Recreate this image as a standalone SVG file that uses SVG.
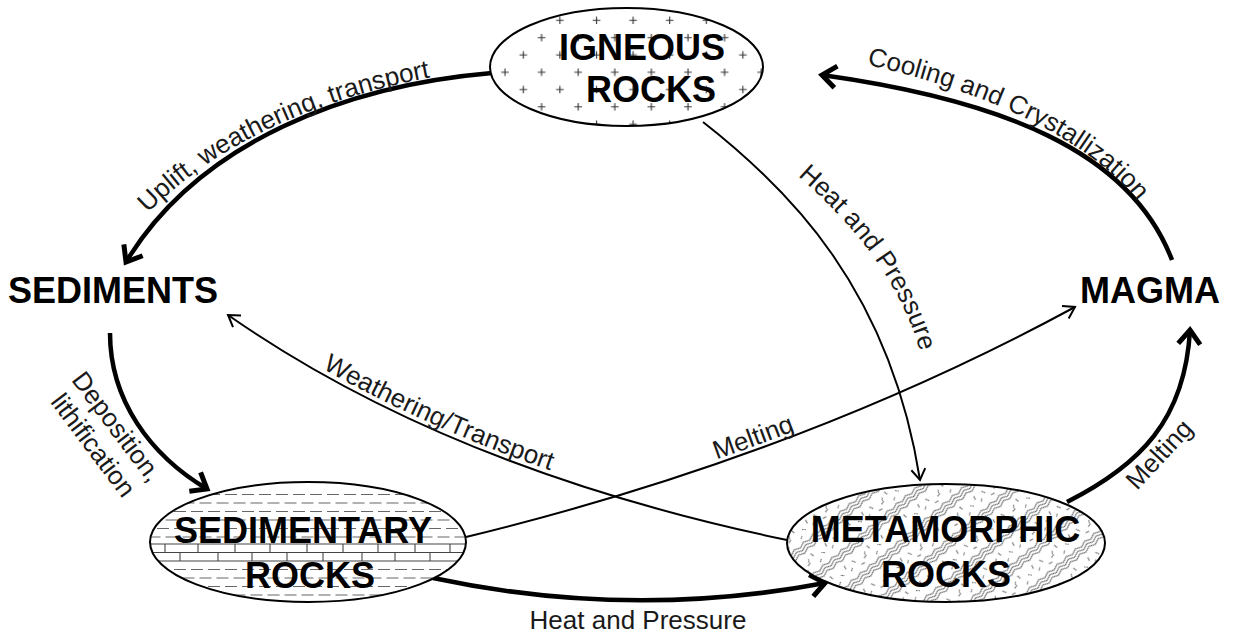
<svg xmlns="http://www.w3.org/2000/svg" width="1233" height="634" viewBox="0 0 1233 634">
<style>
.node{font-family:"Liberation Sans",Arial,sans-serif;font-weight:bold;font-size:36px;fill:#000;text-anchor:middle}
.lbl{font-family:"Liberation Sans",Arial,sans-serif;font-size:26px;fill:#1a1a1a}
.thick{fill:none;stroke:#000;stroke-width:4.5;marker-end:url(#ahThick)}
.thin{fill:none;stroke:#000;stroke-width:2;marker-end:url(#ahThin)}
.edge{stroke:#000;stroke-width:2}
</style>
<defs>
<marker id="ahThick" markerUnits="userSpaceOnUse" viewBox="-20 -20 40 40" markerWidth="40" markerHeight="40" refX="0" refY="0" orient="auto" overflow="visible">
<path d="M-14,-11 L0,0 L-14,11" fill="none" stroke="#000" stroke-width="5"/>
</marker>
<marker id="ahThin" markerUnits="userSpaceOnUse" viewBox="-20 -20 40 40" markerWidth="40" markerHeight="40" refX="0" refY="0" orient="auto" overflow="visible">
<path d="M-11,-7 L0,0 L-11,7" fill="none" stroke="#000" stroke-width="2"/>
</marker>
<pattern id="plus" patternUnits="userSpaceOnUse" x="496" y="29" width="36.6" height="34.6">
<rect width="36.6" height="34.6" fill="#fff"/>
<path d="M5.2,8.65 h7.6 M9,4.85 v7.6 M23.5,25.95 h7.6 M27.3,22.15 v7.6" stroke="#333" stroke-width="1.1"/>
</pattern>
<pattern id="meta" patternUnits="userSpaceOnUse" width="48" height="30" patternTransform="rotate(-40)">
<rect width="48" height="30" fill="#fff"/>
<path d="M0,3 q3,-2.6 6,0 t6,0 t6,0 t6,0 t6,0 t6,0 t6,0 t6,0 M0,6.4 q3,-2.6 6,0 t6,0 t6,0 t6,0 t6,0 t6,0 t6,0 t6,0 M0,9.8 q3,-2.6 6,0 t6,0 t6,0 t6,0 t6,0 t6,0 t6,0 t6,0" stroke="#444" stroke-width="0.85" fill="none"/>
<path d="M4,17 l2,4 M15,23 l4,-1 M25,15 l1,4 M34,21 l3,3 M43,16 l-1,4 M9,26 l4,1 M30,26 l-3,2 M45,25 l3,-2 M20,18 l-2,3" stroke="#555" stroke-width="0.9" fill="none"/>
</pattern>
<clipPath id="sedClip"><ellipse cx="308" cy="542" rx="158" ry="60"/></clipPath>
<path id="tpUplift" d="M148,213 C215,145 320,95 450,74"/>
<path id="tpCool" d="M867,65 C960,85 1085,130 1142,207"/>
<path id="tpHP" d="M798,176 C848,220 915,290 928,390"/>
<path id="tpWT" d="M231,311 Q453,466 790,536"/>
<path id="tpMelt" d="M466,533 Q799,452 1073,303"/>
</defs>
<rect width="1233" height="634" fill="#fff"/>

<g id="connectors">
<path class="thick" d="M492,73 C350,85 200,140 126,262"/>
<path class="thick" d="M1172,260 C1130,150 1000,100 822,75"/>
<path class="thin" d="M703,122 C790,190 890,290 920,480"/>
<path class="thick" d="M1067,502 C1140,465 1185,420 1190,330"/>
<path class="thin" d="M466,537 Q800,456 1075,307"/>
<path class="thin" d="M787,540 Q450,470 228,315"/>
<path class="thick" d="M110,333 C110,400 150,455 207,489"/>
<path class="thick" d="M433,578 Q630,620 825,583"/>
</g>

<g id="labels">
<text class="lbl"><textPath href="#tpUplift">Uplift, weathering, transport</textPath></text>
<text class="lbl"><textPath href="#tpCool">Cooling and Crystallization</textPath></text>
<text class="lbl"><textPath href="#tpHP">Heat and Pressure</textPath></text>
<text class="lbl"><textPath href="#tpWT" startOffset="108">Weathering/Transport</textPath></text>
<text class="lbl"><textPath href="#tpMelt" startOffset="261">Melting</textPath></text>
<text class="lbl" transform="translate(1137,491) rotate(-47)">Melting</text>
<text class="lbl" transform="translate(70.7,380) rotate(53)">Deposition,</text>
<text class="lbl" transform="translate(49.7,402) rotate(53)">lithification</text>
<text class="lbl" x="638" y="629" text-anchor="middle">Heat and Pressure</text>
</g>

<g id="igneous">
<ellipse cx="626.5" cy="67" rx="136.5" ry="59" fill="url(#plus)" class="edge"/>
<text class="node" x="642" y="60">IGNEOUS</text>
<text class="node" x="651" y="102">ROCKS</text>
</g>

<g id="sediments">
<text class="node" x="8" y="303" style="text-anchor:start">SEDIMENTS</text>
</g>

<g id="magma">
<text class="node" x="1080" y="303" style="text-anchor:start">MAGMA</text>
</g>

<g id="sedimentary">
<ellipse cx="308" cy="542" rx="158" ry="60" fill="#fff"/>
<g clip-path="url(#sedClip)">
<g stroke="#666" stroke-width="1.2" stroke-dasharray="12 5">
<path d="M140,494.5 H480"/>
<path d="M140,503 H480" stroke-dashoffset="8.5"/>
<path d="M140,511.5 H480"/>
<path d="M140,520 H480" stroke-dashoffset="8.5"/>
<path d="M140,528.5 H480"/>
<path d="M140,537 H480" stroke-dashoffset="8.5"/>
<path d="M140,569.5 H480"/>
<path d="M140,578 H480" stroke-dashoffset="8.5"/>
<path d="M140,586.5 H480"/>
<path d="M140,595 H480" stroke-dashoffset="8.5"/>
</g>
<g stroke="#444" stroke-width="1.1">
<path d="M140,544 H480 M140,552.5 H480 M140,561 H480"/>
<path d="M165,544 v8.5 M198,544 v8.5 M235,544 v8.5 M270,544 v8.5 M307,544 v8.5 M343,544 v8.5 M378,544 v8.5 M415,544 v8.5 M450,544 v8.5"/>
<path d="M180,552.5 v8.5 M218,552.5 v8.5 M252,552.5 v8.5 M287,552.5 v8.5 M323,552.5 v8.5 M362,552.5 v8.5 M395,552.5 v8.5 M430,552.5 v8.5"/>
</g>
</g>
<ellipse cx="308" cy="542" rx="158" ry="60" fill="none" class="edge"/>
<text class="node" x="303" y="543">SEDIMENTARY</text>
<text class="node" x="310" y="588">ROCKS</text>
</g>

<g id="metamorphic">
<ellipse cx="946" cy="543" rx="159" ry="59" fill="url(#meta)" class="edge"/>
<text class="node" x="945.5" y="542">METAMORPHIC</text>
<text class="node" x="946" y="587">ROCKS</text>
</g>
</svg>
